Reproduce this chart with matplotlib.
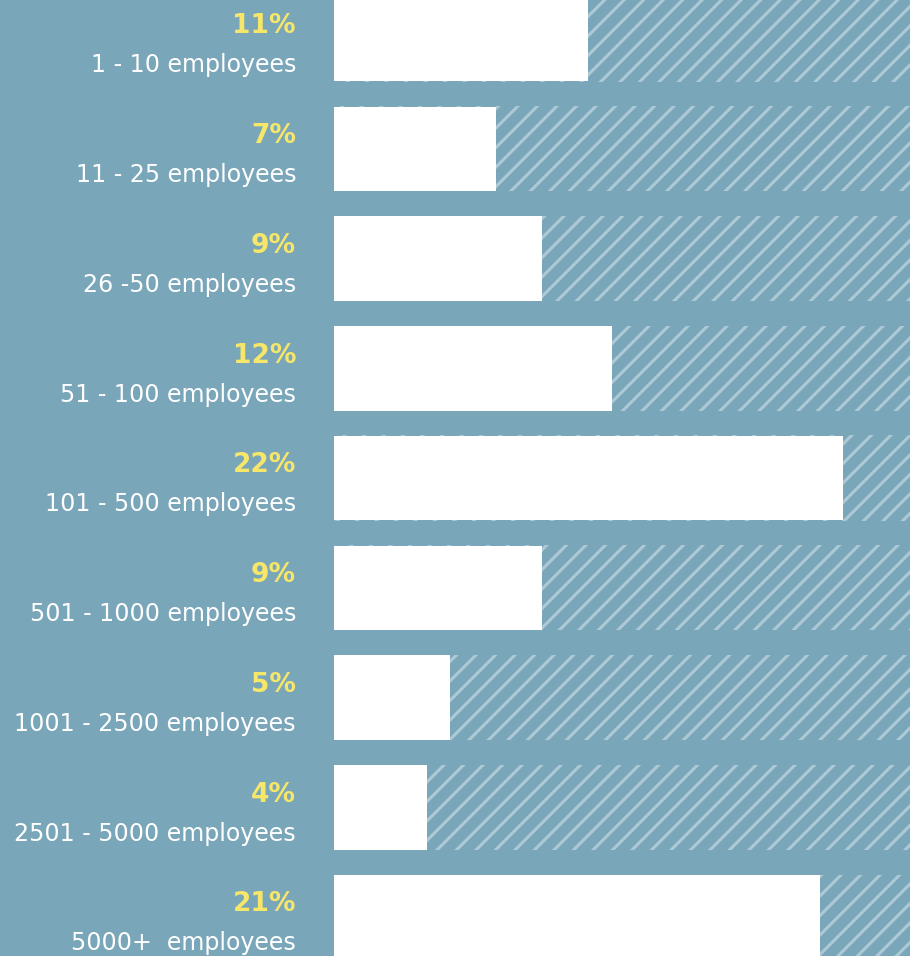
"""
Company size breakdown - horizontal bars on hatched tracks
"""
import matplotlib
matplotlib.use('Agg')
import matplotlib.pyplot as plt
import matplotlib.transforms as mtransforms
import numpy as np

BG     = '#79a6b9'
HATCH  = '#adc9d6'
WHITE  = '#ffffff'
YELLOW = '#f6e66a'

sizes = ['1 - 10 employees', '11 - 25 employees', '26 -50 employees',
         '51 - 100 employees', '101 - 500 employees', '501 - 1000 employees',
         '1001 - 2500 employees', '2501 - 5000 employees', '5000+  employees']
share = [11, 7, 9, 12, 22, 9, 5, 4, 21]
track_max = 25

plt.rcParams.update({
    'font.family': 'DejaVu Sans',
    'hatch.linewidth': 1.9,
})

DPI = 117
fig = plt.figure(figsize=(910 / DPI, 957 / DPI), dpi=DPI)
fig.patch.set_facecolor(BG)
ax = fig.add_axes([334 / 910, 0, 1 - 334 / 910, 1])
ax.set_facecolor(BG)

y = np.arange(len(sizes))
# hatched full-width track behind each bar
ax.barh(y, [track_max] * len(y), left=-0.05, height=0.775, color=BG,
        edgecolor=HATCH, hatch='//', linewidth=0, zorder=1)
ax.barh(y, share, height=0.77, color=WHITE, linewidth=0, zorder=2)

ax.set_xlim(0, 24.9)
ax.set_ylim(8.355, -0.3645)
ax.axis('off')

lbl = mtransforms.blended_transform_factory(fig.transFigure, ax.transData)
for yi, name, val in zip(y, sizes, share):
    ax.text(296 / 910, yi - 0.06, f'{val}%', transform=lbl, ha='right',
            va='baseline', fontsize=16.3, fontweight='bold', color=YELLOW)
    ax.text(296 / 910, yi + 0.295, name, transform=lbl, ha='right',
            va='baseline', fontsize=14.6, color=WHITE)

fig.savefig('out.png', dpi=DPI, facecolor=BG)
